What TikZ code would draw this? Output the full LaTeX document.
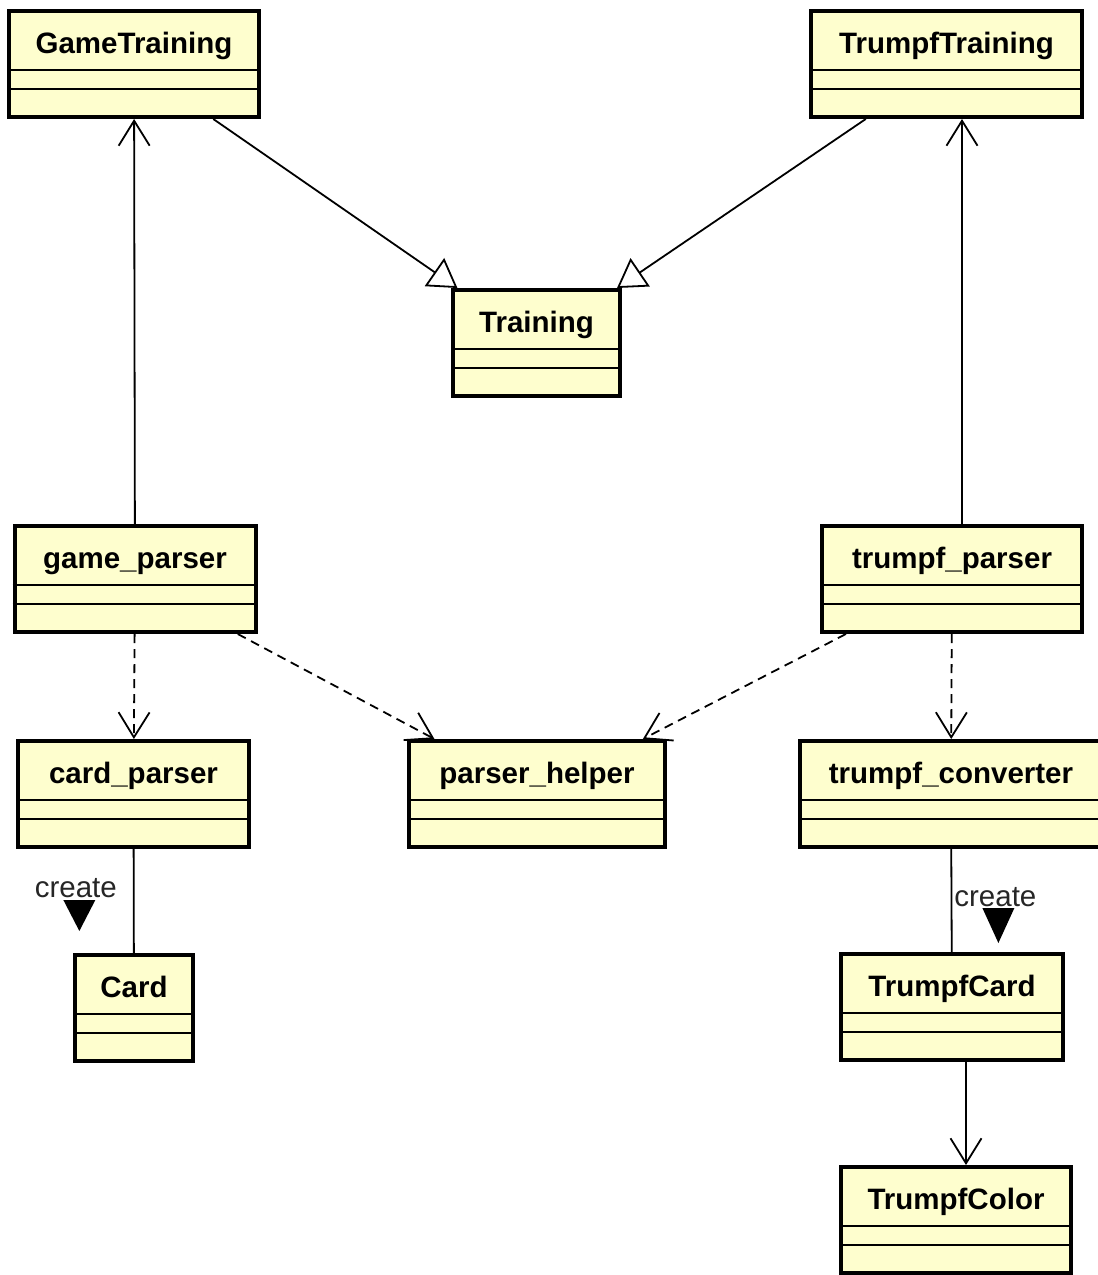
\documentclass[tikz,border=0pt]{standalone}
\usepackage{fontspec}
\setmainfont{Liberation Sans}
\usepackage{xcolor}
\usetikzlibrary{arrows.meta,calc}
\definecolor{clsfill}{HTML}{FEFECE}
\newcommand{\clsfont}{\bfseries\fontsize{29.5}{34}\selectfont}

\begin{document}
\begin{tikzpicture}[
    x=1pt, y=-1pt,
    cls/.style={draw, line width=4pt, fill=clsfill, anchor=north,
      inner xsep=0pt, inner ysep=0pt, text height=42pt, text depth=64pt,
      font=\clsfont},
    sep/.style={line width=1.8pt},
    assoc/.style={-{Straight Barb[length=25pt, width=31pt]}, line width=1.8pt},
    gener/.style={-{Triangle[length=28pt, width=34pt, fill=white]}, line width=1.8pt},
    dep/.style={assoc, dash pattern=on 9pt off 6pt},
    lbl/.style={font=\fontsize{29.5}{34}\selectfont, text=black!85, inner sep=0pt}]

  \useasboundingbox (0,0) rectangle (1098,1275);

  % classes: name/centre x/top/outer width/text
  \foreach \nm/\x/\y/\w/\txt in {
      gt/134/9/254/GameTraining, tt/946.5/9/275/TrumpfTraining,
      tr/536.5/288/171/Training,
      gp/135/524/245/game\_parser, tp/952/524/264/trumpf\_parser,
      cp/133.5/739/235/card\_parser, ph/537/739/260/parser\_helper,
      tc/951/739/306/trumpf\_converter,
      card/134/953/122/Card, tcard/952/952/226/TrumpfCard,
      tcol/956/1165/234/TrumpfColor} {
    \node[cls, minimum width={(\w-4)*1pt}] (\nm) at (\x,\y) {\txt};
    \foreach \d in {61,80}
      \draw[sep] ($(\nm.north west)+(0,\d)$) -- ($(\nm.north east)+(0,\d)$);
  }

  % associations and generalisations
  \draw[assoc] (gp) -- (gt);
  \draw[assoc] ([xshift=10pt]tp.north) -- ([xshift=10pt]tp.north |- tt.south);
  \draw[gener] (gt) -- (tr);
  \draw[gener] (tt) -- (tr);

  % dependencies
  \draw[dep] (gp) -- (cp);
  \draw[dep] (gp) -- (ph);
  \draw[dep] (tp) -- (ph);
  \draw[dep] (tp) -- (tc);

  % create links
  \draw[line width=1.8pt] (cp) -- (card)
    node[lbl, midway, anchor=base east, xshift=-16pt, yshift=4pt] (cl) {create};
  \fill ($(cl.base)+(-12.5,3)$) -- ++(32,0) -- ++(-16,31) -- cycle;
  \draw[line width=1.8pt] (tc) -- (tcard)
    node[lbl, midway, anchor=base west, xshift=2pt, yshift=-5.5pt] (cr) {create};
  \fill ($(cr.base)+(-13,2)$) -- ++(32,0) -- ++(-16,35) -- cycle;

  \draw[assoc] ([xshift=14pt]tcard.south) -- ([xshift=14pt]tcard.south |- tcol.north);
\end{tikzpicture}
\end{document}
